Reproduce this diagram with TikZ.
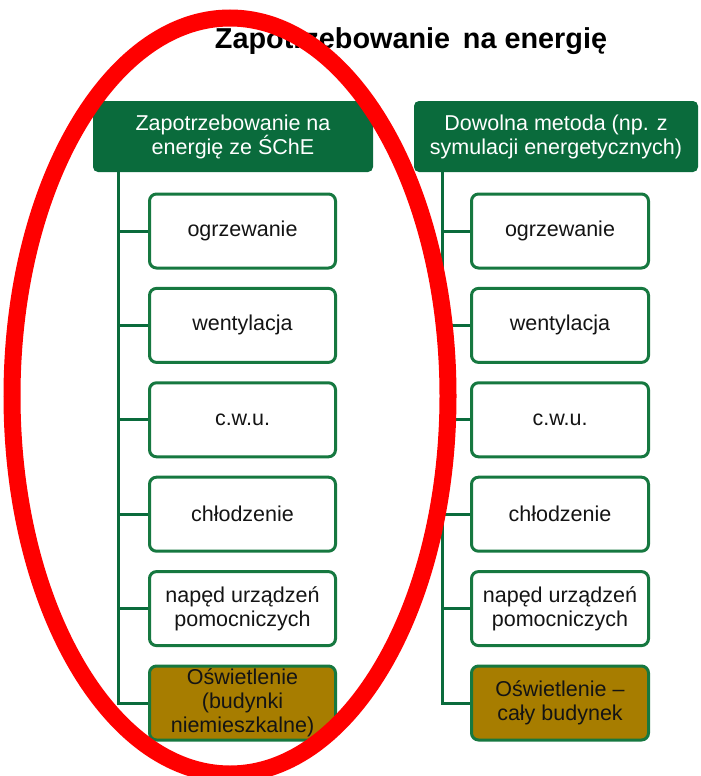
\documentclass[tikz,border=0pt]{standalone}
\usepackage{fontspec}
\setmainfont{Liberation Sans}
\definecolor{hgreen}{RGB}{10,107,60}
\definecolor{bgreen}{RGB}{22,120,64}
\definecolor{gold}{RGB}{167,125,0}
\definecolor{txt}{RGB}{20,20,20}
\newcommand{\bxfont}{\fontsize{21.5}{24}\selectfont}
\tikzset{
  header/.style={fill=hgreen, rounded corners=5pt, minimum height=71pt, inner sep=0pt,
    text=white, align=center, font=\bxfont},
  item/.style={draw=bgreen, line width=3pt, fill=white, rounded corners=7pt,
    minimum height=74pt, inner sep=0pt, text=txt, align=center, font=\bxfont},
  itemL/.style={item, minimum width=186pt},
  itemR/.style={item, minimum width=177pt},
  lamp/.style={fill=gold},
  tree/.style={draw=hgreen, line width=3pt},
}
\begin{document}
\begin{tikzpicture}[x=1pt,y=-1pt]
\useasboundingbox (0,0) rectangle (701,776);
\node[font=\bfseries\fontsize{28.8}{32}\selectfont, text=black] (title) at (411,41) {Zapotrzebowanie\, na energię};

\node[header, minimum width=280pt] (hl) at (233,136.5) {Zapotrzebowanie na\\energię ze ŚChE};
\node[header, minimum width=284pt] (hr) at (556,136.5) {Dowolna metoda (np. z\\symulacji energetycznych)};

\coordinate (tl) at ([xshift=26pt]hl.south west);
\coordinate (tr) at ([xshift=29pt]hr.south west);

\node[itemL] (l1) at (242.5,231) {ogrzewanie};
\node[itemL] (l2) at (242.5,325.4) {wentylacja};
\node[itemL] (l3) at (242.5,419.8) {c.w.u.};
\node[itemL] (l4) at (242.5,514.2) {chłodzenie};
\node[itemL] (l5) at (242.5,608.6) {napęd urządzeń\\pomocniczych};
\node[itemL, lamp] (l6) at (242.5,703) {Oświetlenie\\(budynki\\niemieszkalne)};

\node[itemR] (r1) at (560,231) {ogrzewanie};
\node[itemR] (r2) at (560,325.4) {wentylacja};
\node[itemR] (r3) at (560,419.8) {c.w.u.};
\node[itemR] (r4) at (560,514.2) {chłodzenie};
\node[itemR] (r5) at (560,608.6) {napęd urządzeń\\pomocniczych};
\node[itemR, lamp] (r6) at (560,703) {Oświetlenie –\\cały budynek};

\draw[tree] (tl) |- (l6.west);
\foreach \i in {1,...,5} { \draw[tree] (tl |- l\i.west) -- (l\i.west); }
\draw[tree] (tr) |- (r6.west);
\foreach \i in {1,...,5} { \draw[tree] (tr |- r\i.west) -- (r\i.west); }

\draw[red, line width=17pt] (230,396) ellipse [x radius=218pt, y radius=378pt];
\end{tikzpicture}
\end{document}
